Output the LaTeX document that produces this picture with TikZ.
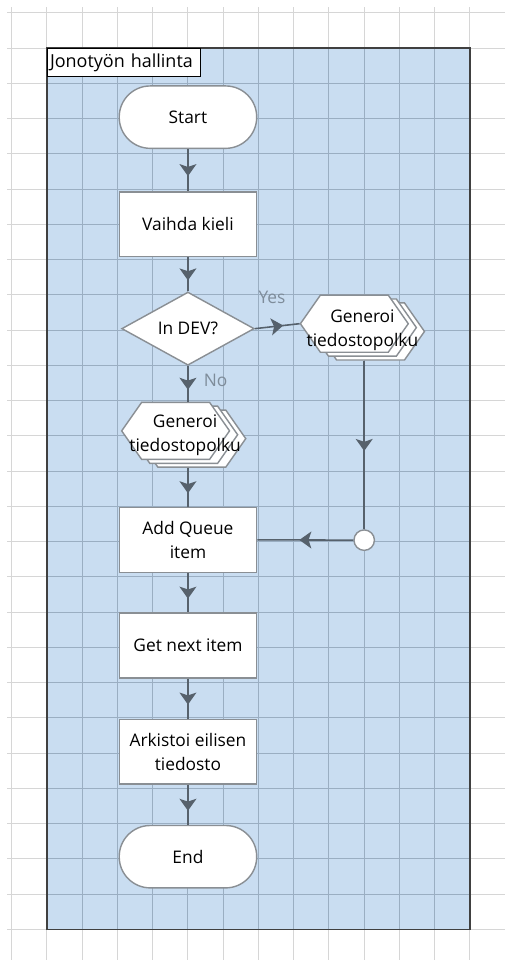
\documentclass[tikz,border=0pt]{standalone}
\usepackage{fontspec}
\setmainfont{Open Sans}
\usetikzlibrary{positioning, arrows.meta, shapes.geometric, shapes.symbols, decorations.markings, calc}

\definecolor{pagegrid}{HTML}{D6D6D6}
\definecolor{lanefill}{HTML}{C9DDF1}
\definecolor{lanegrid}{HTML}{9AAEC2}
\definecolor{boxgray}{HTML}{8A8F94}
\definecolor{linkgray}{HTML}{56616C}
\definecolor{lblgray}{HTML}{7E8C9A}

\begin{document}
\begin{tikzpicture}[font=\fontsize{14}{19.5}\selectfont,
  box/.style={draw=boxgray, fill=white, line width=0.04cm, minimum width=3.9cm, minimum height=1.84cm, align=center, inner sep=0pt},
  term/.style={box, rounded corners=0.88cm, minimum height=1.77cm},
  decision/.style={diamond, draw=boxgray, fill=white, line width=0.04cm, minimum width=3.76cm, minimum height=1.84cm, inner sep=0pt, align=center},
  prep/.style={signal, signal to=east and west, signal pointer angle=110, draw=boxgray, fill=white, line width=0.04cm, minimum width=3.06cm, minimum height=1.62cm, inner sep=0pt},
  link/.style={color=linkgray, line width=0.045cm, decoration={markings, mark=at position 0.5 with {\arrow[xshift=0.17cm]{Stealth[length=0.34cm, width=0.48cm, inset=0.08cm]}}}, postaction={decorate}},
  lbl/.style={text=lblgray, inner sep=0pt}]

\useasboundingbox (-0.332,0.363) rectangle (13.994,-26.871);

% Page grid
\draw[pagegrid, line width=0.03cm, step=1] (-0.13,-26.871) grid (13.994,0.16);

% Swimlane
\fill[lanefill] (1,-1) rectangle (13,-26);
\draw[lanegrid, line width=0.03cm, step=1] (1,-1) grid (13,-26);
\draw[black!75, line width=0.035cm] (1,-1) rectangle (13,-26);
\node[draw=black, fill=white, line width=0.035cm, anchor=north west, text width=4.2cm, minimum height=0.78cm, inner xsep=0.07cm, inner ysep=0pt, align=left, font=\fontsize{14.5}{17}\selectfont] (lane) at (1,-1) {Jonotyön hallinta};

% Main column
\node[term] (start) at (5,-2.96) {Start};
\node[box] (lang) at (5,-6.0) {Vaihda kieli};
\node[decision] (dev) at (5,-8.96) {In DEV?};
\node[box] (addq) at (5,-14.95) {Add Queue\\item};
\node[box] (getnext) at (5,-17.95) {Get next item};
\node[box] (archive) at (5,-20.96) {Arkistoi eilisen\\tiedosto};
\node[term] (finish) at (5,-23.94) {End};

% Generoi stacks
\node[prep] (genL3) at (5.11,-12.08) {};
\node[prep] (genL2) at (4.88,-11.97) {};
\node[prep] (genL) at (4.65,-11.86) {};
\node[align=center, inner sep=0pt] (genLtext) at (4.92,-11.98) {Generoi\\tiedostopolku};

\node[prep] (genR3) at (10.18,-9.04) {};
\node[prep] (genR2) at (9.95,-8.93) {};
\node[prep] (genR) at (9.72,-8.82) {};
\node[align=center, inner sep=0pt] (genRtext) at (9.95,-9.0) {Generoi\\tiedostopolku};

\node[circle, draw=boxgray, fill=white, line width=0.04cm, minimum size=0.58cm, inner sep=0pt] (junc) at (10,-14.96) {};

% Connectors
\draw[link] (start) -- (lang);
\draw[link] (lang) -- (dev);
\draw[link] (dev.east) -- node[lbl, above=0.62cm, xshift=-0.15cm] {Yes} (genR.west);
\draw[link] (dev.south) -- node[lbl, right=0.43cm, yshift=0.1cm] {No} (dev.south |- genL.north);
\draw[link] (dev.south |- genL3.south) -- (addq);
\draw[link] (junc |- genR3.south) -- (junc.north);
\draw[link] (junc.west) -- (addq.east);
\draw[link] (addq) -- (getnext);
\draw[link] (getnext) -- (archive);
\draw[link] (archive) -- (finish);

\end{tikzpicture}
\end{document}
